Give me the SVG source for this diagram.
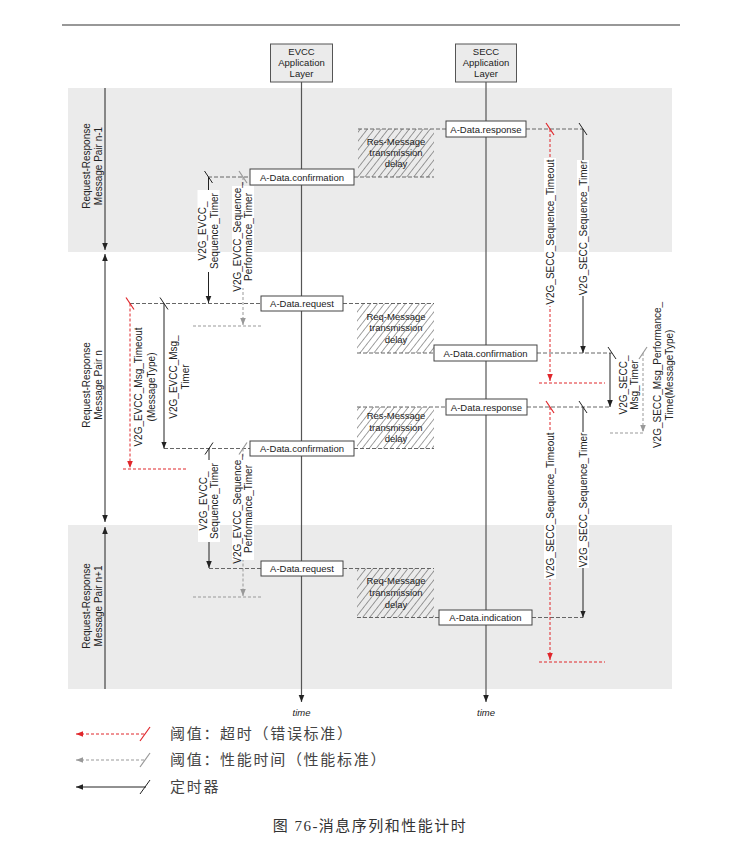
<svg xmlns="http://www.w3.org/2000/svg" width="756" height="846" viewBox="0 0 756 846">
<style>
text{font-family:"Liberation Sans",Arial,sans-serif;fill:#222}
.lbl{font-size:9.5px;text-anchor:middle}
.tl{font-size:10px;text-anchor:middle}
.msg{fill:#fff;stroke:#444;stroke-width:1}
.life{stroke:#555;stroke-width:1.2;fill:none}
.dash{stroke:#666;stroke-width:1;stroke-dasharray:4 2;fill:none}
.tb{stroke:#222;stroke-width:1;fill:none}
.tr{stroke:#e0262b;stroke-width:1;stroke-dasharray:3 2;fill:none}
.tg{stroke:#999;stroke-width:1;stroke-dasharray:3 2;fill:none}
.kb{stroke:#222;stroke-width:1}
.kr{stroke:#e0262b;stroke-width:1.2}
.kg{stroke:#999;stroke-width:1.2}
.bg{fill:#fff}
.band{fill:#ebebeb}
.cjk{font-family:"Noto Sans CJK SC",sans-serif;font-size:15px;fill:#444;letter-spacing:1.7px}
</style>
<defs>
<pattern id="hatch" patternUnits="userSpaceOnUse" width="5.5" height="5.5" patternTransform="rotate(38)">
<line x1="0" y1="0" x2="0" y2="5.5" stroke="#444" stroke-width="1"/>
</pattern>
<marker id="ab" viewBox="0 0 10 10" refX="10" refY="5" markerUnits="userSpaceOnUse" markerWidth="7" markerHeight="7" orient="auto-start-reverse"><path d="M0,1 L10,5 L0,9z" fill="#222"/></marker>
<marker id="ar" viewBox="0 0 10 10" refX="10" refY="5" markerUnits="userSpaceOnUse" markerWidth="7" markerHeight="7" orient="auto-start-reverse"><path d="M0,1 L10,5 L0,9z" fill="#e0262b"/></marker>
<marker id="ag" viewBox="0 0 10 10" refX="10" refY="5" markerUnits="userSpaceOnUse" markerWidth="7" markerHeight="7" orient="auto-start-reverse"><path d="M0,1 L10,5 L0,9z" fill="#999"/></marker>
</defs>

<rect width="756" height="846" fill="#fff"/>
<line x1="62" y1="25" x2="680" y2="25" stroke="#333" stroke-width="1.2"/>

<!-- bands -->
<rect class="band" x="68" y="88" width="604" height="164"/>
<rect class="band" x="68" y="525" width="604" height="164"/>

<g id="connectors">
<!-- lifelines -->
<line class="life" x1="301.5" y1="82" x2="301.5" y2="702" marker-end="url(#ab)"/>
<line class="life" x1="486" y1="82" x2="486" y2="702" marker-end="url(#ab)"/>
<!-- pair arrows -->
<line class="tb" x1="105" y1="88" x2="105" y2="250" marker-end="url(#ab)"/>
<line class="tb" x1="105" y1="254" x2="105" y2="522" marker-start="url(#ab)" marker-end="url(#ab)"/>
<line class="tb" x1="105" y1="527" x2="105" y2="689" marker-start="url(#ab)"/>

<!-- message dashed lines -->
<path class="dash" d="M358,129 H446 M526,129 H583"/>
<path class="dash" d="M208,177 H250 M354,177 H434"/>
<path class="dash" d="M130,303.5 H261 M343,303.5 H434"/>
<path class="dash" d="M357,353 H434 M537,353 H612"/>
<path class="dash" d="M357,407 H446 M527,407 H610"/>
<path class="dash" d="M164,448.5 H250 M354,448.5 H434"/>
<path class="dash" d="M209,568.5 H261 M343,568.5 H434"/>
<path class="dash" d="M357,617.5 H439 M532,617.5 H583"/>

<!-- EVCC timers -->
<line class="tb" x1="208.5" y1="177" x2="208.5" y2="303" marker-end="url(#ab)"/>
<line class="tg" x1="243" y1="177" x2="243" y2="325" marker-end="url(#ag)"/>
<line class="tg" x1="193" y1="326" x2="262" y2="326"/>
<line class="tr" x1="130" y1="303.5" x2="130" y2="468" marker-end="url(#ar)"/>
<line class="tr" x1="123" y1="469" x2="187" y2="469"/>
<line class="tb" x1="164" y1="303.5" x2="164" y2="448.5" marker-end="url(#ab)"/>
<line class="tb" x1="209" y1="448.5" x2="209" y2="568" marker-end="url(#ab)"/>
<line class="tg" x1="243" y1="448.5" x2="243" y2="596" marker-end="url(#ag)"/>
<line class="tg" x1="193" y1="597" x2="262" y2="597"/>

<!-- SECC timers -->
<line class="tr" x1="550" y1="129" x2="550" y2="381" marker-end="url(#ar)"/>
<line class="tr" x1="539" y1="383" x2="605" y2="383"/>
<line class="tb" x1="583" y1="129" x2="583" y2="353" marker-end="url(#ab)"/>
<line class="tb" x1="610" y1="353" x2="610" y2="407" marker-end="url(#ab)"/>
<line class="tg" x1="643" y1="353" x2="643" y2="432" marker-end="url(#ag)"/>
<line class="tg" x1="610" y1="433" x2="643" y2="433"/>
<line class="tr" x1="550" y1="407" x2="550" y2="660" marker-end="url(#ar)"/>
<line class="tr" x1="539" y1="662" x2="605" y2="662"/>
<line class="tb" x1="583" y1="407" x2="583" y2="617.5" marker-end="url(#ab)"/>

<!-- ticks -->
<line class="kr" x1="546" y1="123" x2="554" y2="135"/>
<line class="kb" x1="579" y1="123" x2="587" y2="135"/>
<line class="kb" x1="204.5" y1="171" x2="212.5" y2="183"/>
<line class="kg" x1="239" y1="171" x2="247" y2="183"/>
<line class="kr" x1="126" y1="297.5" x2="134" y2="309.5"/>
<line class="kb" x1="160" y1="297.5" x2="168" y2="309.5"/>
<line class="kb" x1="608" y1="347" x2="616" y2="359"/>
<line class="kg" x1="639" y1="359" x2="647" y2="347"/>
<line class="kr" x1="546" y1="401" x2="554" y2="413"/>
<line class="kb" x1="579" y1="401" x2="587" y2="413"/>
<line class="kb" x1="205" y1="454.5" x2="213" y2="442.5"/>
<line class="kg" x1="239" y1="454.5" x2="247" y2="442.5"/>
</g>

<!-- headers -->
<g id="evcc-header">
<rect x="270.5" y="44" width="62" height="38" fill="#ebebeb" stroke="#555"/>
<text class="lbl" x="301.5" y="55">EVCC</text>
<text class="lbl" x="301.5" y="66">Application</text>
<text class="lbl" x="301.5" y="77">Layer</text>
</g>
<g id="secc-header">
<rect x="455.5" y="44" width="61" height="38" fill="#ebebeb" stroke="#555"/>
<text class="lbl" x="486" y="55">SECC</text>
<text class="lbl" x="486" y="66">Application</text>
<text class="lbl" x="486" y="77">Layer</text>
</g>

<!-- pair labels -->
<g id="pair-n-1" transform="translate(96,166) rotate(-90)">
<text class="tl" y="-6">Request-Response</text><text class="tl" y="6">Message Pair n-1</text>
</g>
<g id="pair-n" transform="translate(96,385) rotate(-90)">
<text class="tl" y="-6">Request-Response</text><text class="tl" y="6">Message Pair n</text>
</g>
<g id="pair-n1" transform="translate(96,606) rotate(-90)">
<text class="tl" y="-6">Request-Response</text><text class="tl" y="6">Message Pair n+1</text>
</g>

<!-- hatched delays -->
<g id="delay-res-n-1">
<rect x="358" y="129" width="76" height="48" fill="url(#hatch)"/>
<text class="lbl" x="396" y="144.5">Res-Message</text><text class="lbl" x="396" y="155.5">transmission</text><text class="lbl" x="396" y="166.5">delay</text>
</g>
<g id="delay-req-n">
<rect x="357" y="303.5" width="77" height="49.5" fill="url(#hatch)"/>
<text class="lbl" x="396" y="319.5">Req-Message</text><text class="lbl" x="396" y="331">transmission</text><text class="lbl" x="396" y="342.5">delay</text>
</g>
<g id="delay-res-n">
<rect x="357" y="407" width="77" height="41.5" fill="url(#hatch)"/>
<text class="lbl" x="396" y="418.5">Res-Message</text><text class="lbl" x="396" y="430.5">transmission</text><text class="lbl" x="396" y="442">delay</text>
</g>
<g id="delay-req-n1">
<rect x="357" y="568.5" width="77" height="49" fill="url(#hatch)"/>
<text class="lbl" x="396" y="583.5">Req-Message</text><text class="lbl" x="396" y="595.5">transmission</text><text class="lbl" x="396" y="607.5">delay</text>
</g>

<!-- message boxes -->
<g id="msg-response-n-1"><rect class="msg" x="446" y="121" width="80" height="16"/><text class="lbl" x="486" y="132.5">A-Data.response</text></g>
<g id="msg-confirmation-n-1"><rect class="msg" x="250" y="169" width="104" height="16"/><text class="lbl" x="302" y="180.5">A-Data.confirmation</text></g>
<g id="msg-request-n"><rect class="msg" x="261" y="296" width="82" height="15"/><text class="lbl" x="302" y="307">A-Data.request</text></g>
<g id="msg-confirmation-secc-n"><rect class="msg" x="434" y="345" width="103" height="16"/><text class="lbl" x="485.5" y="356.5">A-Data.confirmation</text></g>
<g id="msg-response-n"><rect class="msg" x="446" y="399" width="81" height="16"/><text class="lbl" x="486.5" y="410.5">A-Data.response</text></g>
<g id="msg-confirmation-n"><rect class="msg" x="250" y="441" width="104" height="15"/><text class="lbl" x="302" y="452">A-Data.confirmation</text></g>
<g id="msg-request-n1"><rect class="msg" x="261" y="561" width="82" height="15"/><text class="lbl" x="302" y="572">A-Data.request</text></g>
<g id="msg-indication-n1"><rect class="msg" x="439" y="610" width="93" height="15"/><text class="lbl" x="485.5" y="621">A-Data.indication</text></g>

<!-- timer labels -->
<g id="evcc-seq-timer-1" transform="translate(208.5,231) rotate(-90)">
<rect class="bg" x="-41" y="-11" width="82" height="22"/>
<text class="tl" y="-2.5">V2G_EVCC_</text><text class="tl" y="9">Sequence_Timer</text>
</g>
<g id="evcc-perf-timer-1" transform="translate(243,237) rotate(-90)">
<rect class="bg" x="-51" y="-11" width="102" height="22"/>
<text class="tl" y="-2.5">V2G_EVCC_Sequence_</text><text class="tl" y="9">Performance_Timer</text>
</g>
<g id="evcc-msg-timeout" transform="translate(148,387) rotate(-90)">
<text class="tl" y="-6">V2G_EVCC_Msg_Timeout</text><text class="tl" y="7">(MessageType)</text>
</g>
<g id="evcc-msg-timer" transform="translate(183,377) rotate(-90)">
<text class="tl" y="-6">V2G_EVCC_Msg_</text><text class="tl" y="6">Timer</text>
</g>
<g id="evcc-seq-timer-2" transform="translate(209,501) rotate(-90)">
<rect class="bg" x="-41" y="-11" width="82" height="22"/>
<text class="tl" y="-2.5">V2G_EVCC_</text><text class="tl" y="9">Sequence_Timer</text>
</g>
<g id="evcc-perf-timer-2" transform="translate(243,509) rotate(-90)">
<rect class="bg" x="-51" y="-11" width="102" height="22"/>
<text class="tl" y="-2.5">V2G_EVCC_Sequence_</text><text class="tl" y="9">Performance_Timer</text>
</g>
<g id="secc-seq-timeout-1" transform="translate(550,232) rotate(-90)">
<rect class="bg" x="-74" y="-6" width="148" height="12"/>
<text class="tl" y="3.5">V2G_SECC_Sequence_Timeout</text>
</g>
<g id="secc-seq-timer-1" transform="translate(583,228) rotate(-90)">
<rect class="bg" x="-68" y="-6" width="136" height="12"/>
<text class="tl" y="3.5">V2G_SECC_Sequence_Timer</text>
</g>
<g id="secc-msg-timer" transform="translate(632,385) rotate(-90)">
<text class="tl" y="-5">V2G_SECC_</text><text class="tl" y="6">Msg_Timer</text>
</g>
<g id="secc-msg-perf" transform="translate(667,375) rotate(-90)">
<text class="tl" y="-6">V2G_SECC_Msg_Performance_</text><text class="tl" y="6">Time(MessageType)</text>
</g>
<g id="secc-seq-timeout-2" transform="translate(550,505) rotate(-90)">
<rect class="bg" x="-74" y="-6" width="148" height="12"/>
<text class="tl" y="3.5">V2G_SECC_Sequence_Timeout</text>
</g>
<g id="secc-seq-timer-2" transform="translate(583,500) rotate(-90)">
<rect class="bg" x="-68" y="-6" width="136" height="12"/>
<text class="tl" y="3.5">V2G_SECC_Sequence_Timer</text>
</g>

<!-- time labels -->
<text x="301.5" y="716" class="lbl" font-style="italic">time</text>
<text x="486" y="716" class="lbl" font-style="italic">time</text>

<!-- legend -->
<g id="legend">
<line class="tr" x1="76" y1="734" x2="146" y2="734" stroke-width="1.2" marker-start="url(#ar)"/>
<line class="kr" x1="140" y1="741" x2="150" y2="727"/>
<line class="tg" x1="76" y1="760" x2="146" y2="760" stroke-width="1.2" marker-start="url(#ag)"/>
<line class="kg" x1="140" y1="767" x2="150" y2="753"/>
<line class="tb" x1="76" y1="787" x2="146" y2="787" stroke-width="1.2" marker-start="url(#ab)"/>
<line class="kb" x1="140" y1="794" x2="150" y2="780"/>
<text class="cjk" x="170" y="739">阈值：超时（错误标准）</text>
<text class="cjk" x="170" y="765">阈值：性能时间（性能标准）</text>
<text class="cjk" x="170" y="792">定时器</text>
</g>

<text x="370" y="831" text-anchor="middle" style="font-family:'Liberation Serif','Noto Sans CJK SC',serif;font-size:15px;fill:#333;letter-spacing:1.5px">图 76-消息序列和性能计时</text>
</svg>
